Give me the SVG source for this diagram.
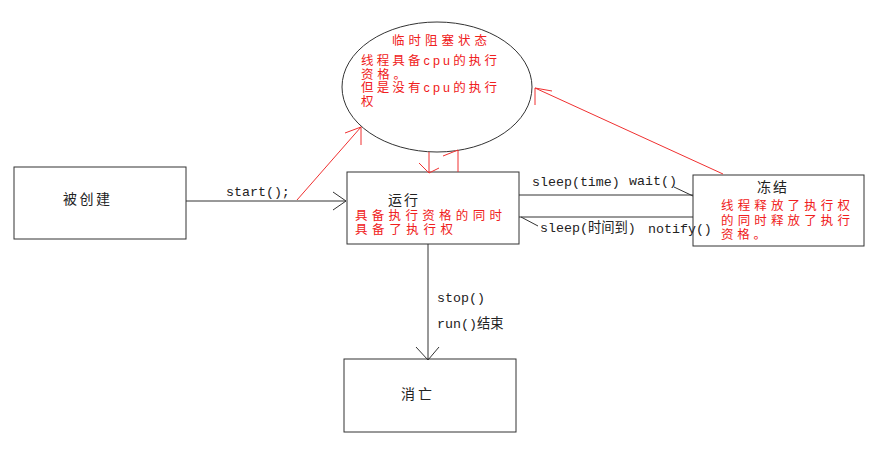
<svg xmlns="http://www.w3.org/2000/svg" width="893" height="467" viewBox="0 0 893 467">
<style>
.box{fill:#fff;stroke:#333;stroke-width:1}
.ln{fill:none;stroke:#333;stroke-width:1}
.rl{fill:none;stroke:#f03030;stroke-width:1}
.t{font-family:"Liberation Sans","Noto Sans CJK SC",sans-serif;font-size:14px;fill:#222}
.r{font-family:"Liberation Sans","Noto Sans CJK SC",sans-serif;font-size:12.5px;fill:#f02020}
.m{font-family:"Liberation Mono","Noto Sans CJK SC",monospace;font-size:13.3px;fill:#222}
</style>
<rect width="893" height="467" fill="#fff"/>
<g id="blocked">
<ellipse cx="437" cy="87" rx="95" ry="65" fill="#fff" stroke="#333"/>
<text class="r" x="392" y="45" textLength="95">临时阻塞状态</text>
<text class="r" x="361" y="65" textLength="136">线程具备cpu的执行</text>
<text class="r" x="361" y="78.5" textLength="45">资格。</text>
<text class="r" x="361" y="92" textLength="136">但是没有cpu的执行</text>
<text class="r" x="361" y="105.5">权</text>
</g>
<g id="created">
<rect class="box" x="14" y="167" width="172" height="72"/>
<text class="t" x="63" y="204" textLength="47">被创建</text>
</g>
<g id="running">
<rect class="box" x="347" y="172" width="172" height="72"/>
<text class="t" x="388" y="205" textLength="30">运行</text>
<text class="r" x="355" y="220" textLength="147">具备执行资格的同时</text>
<text class="r" x="355" y="234" textLength="98">具备了执行权</text>
</g>
<g id="frozen">
<rect class="box" x="693" y="175" width="171" height="71"/>
<text class="t" x="757" y="192" textLength="30">冻结</text>
<text class="r" x="721" y="210" textLength="129">线程释放了执行权</text>
<text class="r" x="721" y="224.5" textLength="129">的同时释放了执行</text>
<text class="r" x="721" y="239" textLength="45">资格。</text>
</g>
<g id="dead">
<rect class="box" x="344" y="359" width="172" height="73"/>
<text class="t" x="401" y="399" textLength="31">消亡</text>
</g>
<g id="connectors">
<path class="ln" d="M186 201H346M333 192L346 201L333 210"/>
<path class="rl" d="M297 200L361 127M345 133L361 127L361 145"/>
<path class="rl" d="M429 152V173M419 163L429 173L439 168"/>
<path class="rl" d="M458 172V150M443 156L458 150"/>
<path class="rl" d="M723 174L535 88M552 91L535 88L535 105"/>
<path class="ln" d="M519 195H693M674 187L693 196"/>
<path class="ln" d="M519 217H693M521 217L538 226"/>
<path class="ln" d="M428 244V360M416 347L428 360L439 347"/>
<text class="m" x="226" y="196">start();</text>
<text class="m" x="532" y="186">sleep(time)</text>
<text class="m" x="629" y="185">wait()</text>
<text class="m" x="540" y="232">sleep(时间到)</text>
<text class="m" x="648" y="233">notify()</text>
<text class="m" x="437" y="302">stop()</text>
<text class="m" x="437" y="328">run()结束</text>
</g>
</svg>
